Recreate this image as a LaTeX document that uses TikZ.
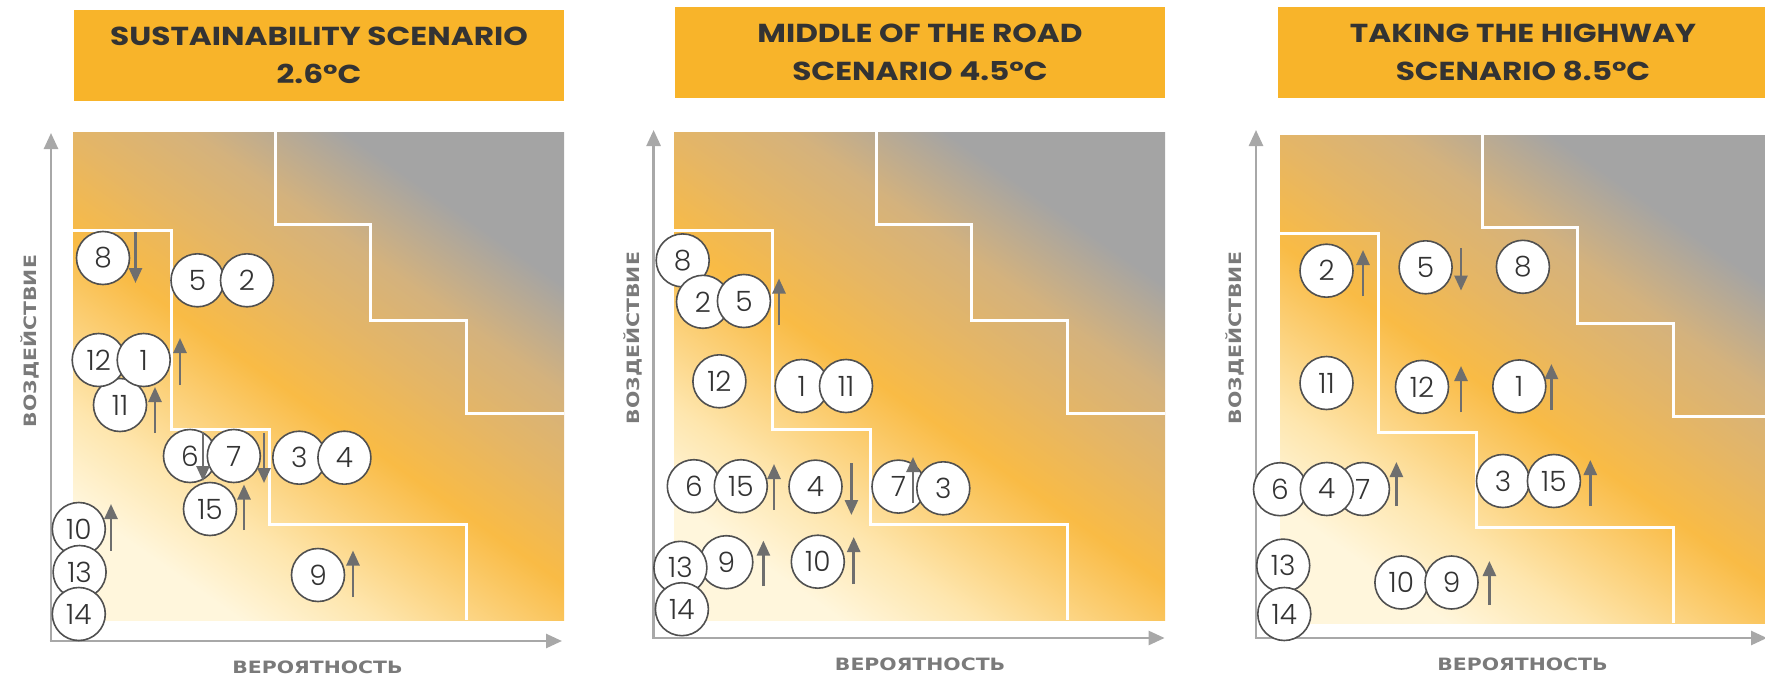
\documentclass[tikz,border=0pt]{standalone}
\usepackage{fontspec}
\usetikzlibrary{arrows.meta}
\newfontfamily\kopfschrift{Poppins Bold}[FakeStretch=1.2]
\newfontfamily\zahlschrift{Poppins Light}
\newfontfamily\achsschrift{DejaVu Sans Bold}[FakeStretch=1.2]
\definecolor{kopfgelb}{HTML}{F8B42A}
\definecolor{kopftext}{HTML}{333333}
\definecolor{achsgrau}{HTML}{A8A8A8}
\definecolor{textgrau}{HTML}{7A7A7A}
\definecolor{randgrau}{HTML}{505050}
\definecolor{pfeilgrau}{HTML}{6E6E6E}
\definecolor{blass}{HTML}{FFF6DC}
\definecolor{hell}{HTML}{FEE6AE}
\definecolor{orange}{HTML}{F9BB45}
\definecolor{ocker}{HTML}{E6B664}
\definecolor{lehm}{HTML}{D4B27D}
\definecolor{grau}{HTML}{A4A4A4}
% Farbverlauf von blass (unten links) nach grau (oben rechts)
\pgfdeclarehorizontalshading{risiko}{100bp}{color(0bp)=(blass); color(25bp)=(blass);
  color(33bp)=(hell); color(47bp)=(orange); color(55bp)=(ocker); color(63bp)=(lehm);
  color(72bp)=(grau); color(100bp)=(grau)}
\tikzset{
  feld/.style={shading=risiko,shading angle=55},
  stufe/.style={draw=white,line width=3pt},
  kopf/.style={fill=kopfgelb,text=kopftext,minimum width=490pt,inner sep=0pt,
    align=center,font=\kopfschrift\fontsize{26}{38}\selectfont},
  kreis/.style={circle,draw=randgrau,line width=1.6pt,fill=white,minimum size=53pt,
    inner sep=0pt,text=black!80,font=\zahlschrift\fontsize{28}{28}\selectfont},
  pfeil/.style={draw=pfeilgrau,line width=2.6pt,-{Triangle[length=15pt,width=13pt]}},
  achse/.style={draw=achsgrau,line width=2.6pt,-{Triangle[length=16pt,width=14pt]}},
  achstext/.style={text=textgrau,font=\achsschrift\fontsize{17}{17}\selectfont}
}
\begin{document}
\begin{tikzpicture}[x=1pt,y=-1pt]
\useasboundingbox (0,0) rectangle (1765,677);
% Hintergrund mit Farbverlauf und den beiden Stufenlinien
\foreach \sx/\sy in {73/132,674/132,1280/135}{
  \begin{scope}[shift={(\sx,\sy)}]
    \shade[feld] (0,0) rectangle (491,488);
    \draw[stufe] (202,0) -- (202,92.5) -- (297,92.5) -- (297,188) -- (393,188)
      -- (393,281) -- (491,281);
    \draw[stufe] (0,98) -- (98,98) -- (98,297.6) -- (196,297.6) -- (196,392)
      -- (393,392) -- (393,488);
  \end{scope}
}
% Achsen mit Beschriftung
\foreach \ax/\ay in {51/641,653.6/638,1256/638}{
  \draw[achse] (\ax,\ay) -- (\ax,\ay-508);
  \draw[achse] (\ax-1.3,\ay) -- (\ax+511,\ay);
  \node[achstext] at (\ax+266.5,\ay+26) {ВЕРОЯТНОСТЬ};
  \node[achstext,rotate=90] at (\ax-21,\ay-300) {ВОЗДЕЙСТВИЕ};
}
% Überschriften
\node[kopf,minimum height=91.5pt] (k1) at (319,55.7) {SUSTAINABILITY SCENARIO\\2.6°C};
\node[kopf,minimum height=91.5pt] (k2) at (920,52.7) {MIDDLE OF THE ROAD\\SCENARIO 4.5°C};
\node[kopf,minimum height=91.5pt] (k3) at (1523,52.7) {TAKING THE HIGHWAY\\SCENARIO 8.5°C};
% Risiken 2.6°C
\node[kreis] (a8) at (103,258) {8};
\node[kreis] (a5) at (197.5,280.3) {5};
\node[kreis] (a2) at (247,280.3) {2};
\node[kreis] (a11) at (120,405) {11};
\node[kreis] (a12) at (98.7,360) {12};
\node[kreis] (a1) at (143.7,360) {1};
\node[kreis] (a6) at (190,456) {6};
\node[kreis] (a7) at (233.8,456) {7};
\node[kreis] (a3) at (299.3,457.7) {3};
\node[kreis] (a4) at (344.4,457.7) {4};
\node[kreis] (a15) at (210,509) {15};
\node[kreis] (a10) at (78.8,529) {10};
\node[kreis] (a13) at (79.6,572) {13};
\node[kreis] (a14) at (78.8,614) {14};
\node[kreis] (a9) at (318,575) {9};
\draw[pfeil] (135.5,232) -- (135.5,283);
\draw[pfeil] (180,385) -- (180,338);
\draw[pfeil] (155,433) -- (155,387);
\draw[pfeil] (203,432) -- (203,481);
\draw[pfeil] (264,433) -- (264,483);
\draw[pfeil] (244,530) -- (244,484.5);
\draw[pfeil] (111,550.5) -- (111,504);
\draw[pfeil] (353,597) -- (353,550.5);
% Risiken 4.5°C
\node[kreis] (b8) at (682.7,260.4) {8};
\node[kreis] (b2) at (703,301.8) {2};
\node[kreis] (b5) at (743.9,301) {5};
\node[kreis] (b12) at (719.4,381.3) {12};
\node[kreis] (b1) at (801.7,386) {1};
\node[kreis] (b11) at (846,386) {11};
\node[kreis] (b6) at (693.8,486.2) {6};
\node[kreis] (b15) at (740.8,486.2) {15};
\node[kreis] (b4) at (815.5,486.6) {4};
\node[kreis] (b7) at (898.5,486.6) {7};
\node[kreis] (b3) at (943.3,488.3) {3};
\node[kreis] (b9) at (726.3,562.2) {9};
\node[kreis] (b13) at (680.4,567.8) {13};
\node[kreis] (b14) at (681.9,609.2) {14};
\node[kreis] (b10) at (817.8,561.7) {10};
\draw[pfeil] (779,325) -- (779,278.5);
\draw[pfeil] (774,510) -- (774,464);
\draw[pfeil] (851.4,463) -- (851.4,515);
\draw[pfeil] (913,503) -- (913,457);
\draw[pfeil] (763.4,586) -- (763.4,540.6);
\draw[pfeil] (853.7,584) -- (853.7,537);
% Risiken 8.5°C
\node[kreis] (c2) at (1326.5,270.7) {2};
\node[kreis] (c5) at (1425.6,267.3) {5};
\node[kreis] (c8) at (1522.9,266.8) {8};
\node[kreis] (c11) at (1326.5,383) {11};
\node[kreis] (c12) at (1422,386.9) {12};
\node[kreis] (c1) at (1519.3,386.4) {1};
\node[kreis] (c6) at (1280,489.2) {6};
\node[kreis] (c7) at (1362.9,489) {7};
\node[kreis] (c4) at (1326.8,489) {4};
\node[kreis] (c3) at (1503,481) {3};
\node[kreis] (c15) at (1553.9,481) {15};
\node[kreis] (c13) at (1283.2,565.6) {13};
\node[kreis] (c14) at (1284.3,614) {14};
\node[kreis] (c10) at (1401.4,582.5) {10};
\node[kreis] (c9) at (1451.5,582.5) {9};
\draw[pfeil] (1363,296) -- (1363,250);
\draw[pfeil] (1461,248) -- (1461,290.6);
\draw[pfeil] (1461,412) -- (1461,366);
\draw[pfeil] (1551.4,410) -- (1551.4,364);
\draw[pfeil] (1396.4,506) -- (1396.4,462);
\draw[pfeil] (1590.3,506) -- (1590.3,460);
\draw[pfeil] (1489.4,605) -- (1489.4,561);
\end{tikzpicture}
\end{document}
